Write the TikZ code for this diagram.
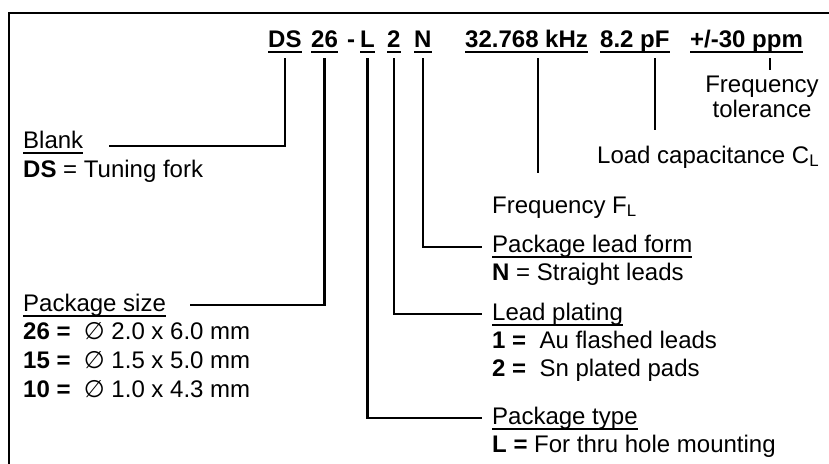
\documentclass[tikz,border=0pt]{standalone}
\usepackage{fontspec}
\setmainfont{Liberation Sans}
\newfontfamily\symfont{DejaVu Sans}
\usepackage{tikz}
\usetikzlibrary{positioning}

% underlined word, rule sits just under the descenders
\newcommand{\undl}[1]{\setbox0=\hbox{#1}\rlap{\rule[-6pt]{\wd0}{1.6pt}}\box0}

\begin{document}
\begin{tikzpicture}[
    x=1pt, y=-1pt,
    font=\fontsize{24}{29}\selectfont,
    partcode/.style={font=\fontsize{24}{29}\selectfont\bfseries, inner sep=0pt, anchor=base west},
    descr/.style={inner sep=0pt, anchor=base west},
    lead/.style={line width=2.2pt, shorten <=5pt},
    frame/.style={line width=2.6pt}
]
\useasboundingbox (0,0) rectangle (829,463);
\clip (0,0) rectangle (829,463);
\draw[frame] (9,13) rectangle (870,500);

% part number
\node[partcode] (ds) at (268,47) {\undl{DS}};
\node[partcode] (size) at (311,47) {\undl{26}};
\node[partcode] (dash) at (347,47) {-};
\node[partcode] (ptype) at (360,47) {\undl{L}};
\node[partcode] (plating) at (387,47) {\undl{2}};
\node[partcode] (leadform) at (414,47) {\undl{N}};
\node[partcode] (freq) at (465,47) {\undl{32.768 kHz}};
\node[partcode] (load) at (600,47) {\undl{8.2 pF}};
\node[partcode] (tol) at (690,47) {\undl{+/-30 ppm}};

% left column
\node[descr] (blank) at (23,148) {\undl{Blank}};
\node[descr] (blankdesc) at (23,177) {\textbf{DS} = Tuning fork};
\node[descr] (sizetitle) at (23,311) {\undl{Package size}};
\node[descr] (size26) at (23,339) {\textbf{26 =}\ \ {\symfont ∅} 2.0 x 6.0 mm};
\node[descr] (size15) at (23,368) {\textbf{15 =}\ \ {\symfont ∅} 1.5 x 5.0 mm};
\node[descr] (size10) at (23,397) {\textbf{10 =}\ \ {\symfont ∅} 1.0 x 4.3 mm};

% right column
\node[descr, anchor=base] (tolword) at (762,92) {Frequency};
\node[descr, anchor=base] (toltext) at (762,117) {tolerance};
\node[descr] (cltext) at (597,163) {Load capacitance C\textsubscript{L}};
\node[descr] (fltext) at (492,213) {Frequency F\textsubscript{L}};
\node[descr] (formtitle) at (492,252) {\undl{Package lead form}};
\node[descr] (formdesc) at (492,280) {\textbf{N} = Straight leads};
\node[descr] (platetitle) at (492,320) {\undl{Lead plating}};
\node[descr] (plate1) at (492,348) {\textbf{1 =}\ \ Au flashed leads};
\node[descr] (plate2) at (492,376) {\textbf{2 =}\ \ Sn plated pads};
\node[descr] (typetitle) at (492,424) {\undl{Package type}};
\node[descr] (typedesc) at (492,452) {\textbf{L =} For thru hole mounting};

\coordinate (tolend) at (770,70);
\coordinate (clend) at (655,130);
\coordinate (flend) at (538,173);

\draw[lead] (ds.south) |- ([xshift=26pt,yshift=2pt]blank.base east);
\draw[lead] (size.south) |- ([xshift=24pt,yshift=6pt]sizetitle.base east);
\draw[lead] (ptype.south) |- ([xshift=-10pt,yshift=6pt]typetitle.base west);
\draw[lead] (plating.south) |- ([xshift=-10pt,yshift=6pt]platetitle.base west);
\draw[lead] (leadform.south) |- ([xshift=-10pt,yshift=5pt]formtitle.base west);
\draw[lead] (freq.south -| flend) -- (flend);
\draw[lead] (load.south -| clend) -- (clend);
\draw[lead] (tol.south -| tolend) -- (tolend);
\end{tikzpicture}
\end{document}
